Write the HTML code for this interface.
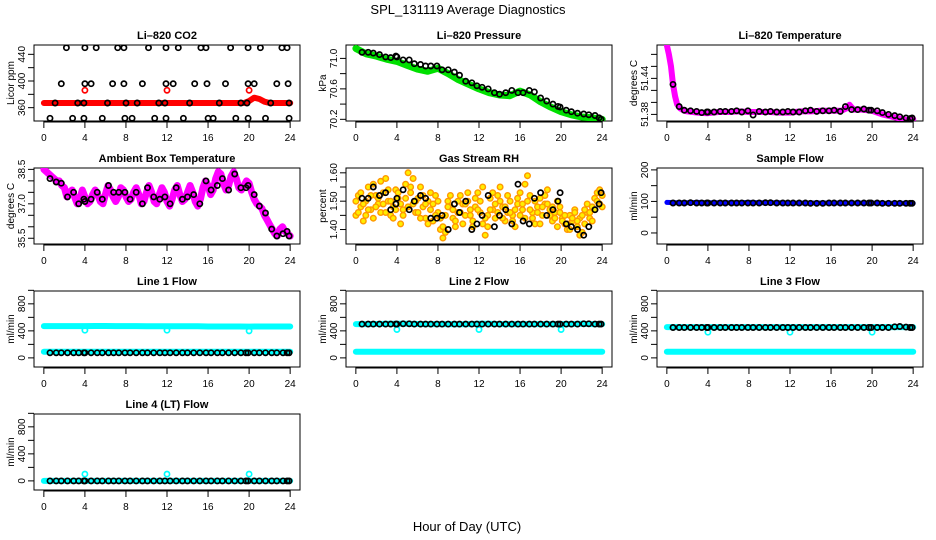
<!DOCTYPE html>
<html><head><meta charset="utf-8"><style>
html,body{margin:0;padding:0;background:#fff;}
svg{display:block;font-family:"Liberation Sans",Arial,sans-serif;}
</style></head><body>
<svg id="chart" width="936" height="540" viewBox="0 0 936 540" xmlns="http://www.w3.org/2000/svg">
<rect width="936" height="540" fill="#fff"/>
<text x="468" y="14" font-size="13" text-anchor="middle">SPL_131119  Average Diagnostics</text>
<text x="467" y="531" font-size="13" text-anchor="middle">Hour of Day (UTC)</text>
</svg>
<script>
// ---- data ----
const xTicks=[0,4,8,12,16,20,24];
const blackHours=[0.6,1.2,1.7,2.3,2.9,3.4,3.9,4.0,4.6,5.2,5.7,6.3,6.8,7.3,7.9,8.4,9.0,9.6,10.1,10.7,11.3,11.8,12.3,12.9,13.5,14.0,14.6,15.2,15.8,16.3,16.9,17.4,18.0,18.6,19.2,19.7,19.9,20.5,21.0,21.6,22.2,22.7,23.3,23.7,23.9];
const hourly=[0,1,2,3,4,5,6,7,8,9,10,11,12,13,14,15,16,17,18,19,20,21,22,23,24];
// CO2
const co2HighHours=[2.2,4.0,5.1,7.2,7.8,10.2,11.9,13.1,15.3,15.8,18.2,19.9,21.1,23.2,23.7];
const co2HighVals=[450,450,450,450,450,450,450,450,450,450,450,450,450,450,450];
const co2MidHours=[1.7,4.0,4.6,6.7,7.8,9.6,11.9,12.6,14.7,15.9,17.7,19.9,20.5,22.7,23.8];
const co2MidVals=[396,396,396,396,396,396,396,396,396,396,396,396,396,396,396];
const co2LowHours=[0.6,2.8,3.9,5.7,7.9,8.6,10.8,11.9,13.6,16.0,16.5,18.7,19.9,21.6,23.9];
const co2LowVals=[344,344,344,344,344,344,344,344,344,344,344,344,344,344,344];
const co2LineHours=[1.1,3.3,3.9,6.2,8.0,9.1,11.2,11.8,14.2,17.1,19.2,19.8,22.1,23.9];
const co2LineVals=[367,367,367,367,367,367,367,367,367,367,367,367,367,367];
const co2RedHours=[0,2,4,6,8,10,12,14,16,18,19.5,20,20.5,21,21.5,22,24];
const co2RedVals=[367,367,367,367,367,367,367,367,367,367,367,370,375,373,369,367,367];
const co2RedDipHours=[4,12,20];
const co2RedDipVals=[386,386,386];
// Pressure
const presGreen=[71.13,71.06,71.03,70.99,70.96,70.91,70.86,70.83,70.87,70.8,70.72,70.66,70.6,70.55,70.52,70.51,70.57,70.52,70.43,70.36,70.3,70.26,70.23,70.22,70.2];
const presBlack=[71.08,71.08,71.07,71.05,71.02,71.01,71.03,71.02,70.98,70.98,70.93,70.92,70.9,70.9,70.9,70.85,70.85,70.82,70.78,70.7,70.68,70.64,70.62,70.6,70.55,70.53,70.55,70.58,70.55,70.55,70.58,70.56,70.48,70.44,70.4,70.37,70.36,70.32,70.3,70.28,70.27,70.26,70.25,70.22,70.2];
// Li-820 temperature
const tempHours=[0,0.2,0.4,0.6,0.8,1.0,1.3,1.7,2,3,4,5,6,7,8,9,10,11,12,13,14,15,16,17,17.5,17.8,18.2,19,20,21,22,23,23.5,24];
const tempMag=[51.495,51.48,51.46,51.43,51.41,51.397,51.39,51.386,51.385,51.383,51.382,51.384,51.384,51.385,51.384,51.384,51.384,51.383,51.383,51.385,51.385,51.386,51.386,51.386,51.39,51.396,51.388,51.388,51.386,51.38,51.376,51.372,51.37,51.372];
const tempBlack=[51.43,51.393,51.387,51.386,51.385,51.383,51.384,51.384,51.384,51.385,51.385,51.385,51.386,51.384,51.386,51.379,51.385,51.384,51.385,51.384,51.384,51.385,51.384,51.384,51.386,51.387,51.385,51.386,51.386,51.387,51.385,51.393,51.388,51.388,51.389,51.387,51.387,51.386,51.383,51.380,51.378,51.376,51.374,51.373,51.374];
// Ambient box temperature (quarter-hourly)
const ambMag=[38.5,38.4,38.3,38.2,38.1,38.0,38.0,37.8,37.7,37.3,37.5,37.6,37.3,37.0,37.2,37.6,37.3,37.0,37.1,37.4,37.6,37.4,37.1,37.0,37.4,37.8,37.6,37.3,37.1,37.3,37.7,37.6,37.3,37.1,37.2,37.5,37.7,37.4,37.0,37.1,37.5,37.8,37.5,37.1,37.0,37.4,37.7,37.5,37.1,36.9,37.2,37.6,37.8,37.4,37.1,37.2,37.5,37.8,37.5,37.1,36.9,37.2,37.7,38.0,37.8,37.4,37.6,38.1,38.4,38.3,37.9,37.6,37.8,38.2,38.4,38.1,37.7,37.6,37.8,38.0,37.9,37.5,37.2,37.0,36.9,36.8,36.5,36.3,36.1,35.9,35.7,35.6,35.9,36.0,35.8,35.7,35.6];
const ambBlack=[38.1,37.95,37.9,37.3,37.5,37.0,37.2,37.1,37.2,37.5,37.2,37.8,37.5,37.5,37.5,37.2,37.5,37.0,37.7,37.3,37.2,37.3,37.0,37.7,37.2,37.3,37.4,37.0,38.0,37.6,37.8,38.1,37.6,38.3,37.7,37.7,37.8,37.4,36.9,36.6,35.9,35.6,35.7,35.8,35.6];
// Gas stream RH
const rhA=[1.45,1.52,1.48,1.43,1.50,1.55,1.47,1.44,1.52,1.49,1.46,1.53,1.58,1.50,1.45,1.48,1.54,1.51,1.42,1.47,1.56,1.60,1.53,1.49,1.46,1.51,1.55,1.48,1.44,1.50,1.47,1.43,1.52,1.46,1.40,1.37,1.45,1.50,1.48,1.44,1.41,1.46,1.52,1.49,1.45,1.50,1.47,1.43,1.48,1.53,1.46,1.42,1.38,1.45,1.51,1.47,1.44,1.52,1.55,1.48,1.43,1.46,1.50,1.45,1.41,1.49,1.53,1.47,1.44,1.59,1.52,1.46,1.42,1.48,1.51,1.45,1.49,1.54,1.47,1.43,1.46,1.50,1.48,1.44,1.42,1.40,1.45,1.43,1.47,1.41,1.44,1.39,1.42,1.46,1.44,1.48,1.51,1.53,1.49,1.52];
const rhB=[1.50,1.46,1.53,1.49,1.45,1.47,1.52,1.56,1.48,1.51,1.57,1.49,1.46,1.54,1.50,1.44,1.47,1.53,1.49,1.45,1.51,1.48,1.55,1.58,1.50,1.46,1.44,1.52,1.49,1.42,1.53,1.49,1.45,1.50,1.44,1.41,1.39,1.48,1.52,1.47,1.43,1.50,1.46,1.42,1.49,1.53,1.45,1.41,1.51,1.47,1.50,1.55,1.44,1.41,1.47,1.53,1.49,1.46,1.50,1.44,1.48,1.52,1.46,1.43,1.47,1.51,1.45,1.49,1.56,1.50,1.47,1.44,1.50,1.46,1.42,1.48,1.52,1.49,1.45,1.48,1.44,1.41,1.46,1.43,1.45,1.42,1.40,1.44,1.46,1.43,1.38,1.45,1.47,1.49,1.46,1.43,1.47,1.50,1.54,1.48];
const rhBlack=[1.51,1.51,1.55,1.52,1.53,1.47,1.49,1.51,1.54,1.47,1.50,1.52,1.51,1.44,1.44,1.45,1.40,1.49,1.46,1.50,1.40,1.42,1.45,1.52,1.41,1.45,1.47,1.42,1.56,1.43,1.42,1.51,1.53,1.45,1.47,1.50,1.53,1.42,1.41,1.40,1.38,1.41,1.47,1.49,1.53];
// Sample flow
const sampleBlue=[97,96,96,97,96,96,96,96,97,96,96,96,95,95,95,95,95,95,95,95,95,94,94,94,94];
const sampleBlack=[95,95,95,96,95,95,95,95,95,95,95,95,95,95,95,95,95,96,96,95,95,95,95,95,95,94,94,94,95,95,95,95,95,95,95,95,95,95,94,94,94,94,94,94,94];
// Line flows
const dipHours=[4,12,20];
const l1High=[470,470,470,470,470,472,472,470,470,470,468,468,468,468,468,468,465,465,465,465,463,465,465,465,465];
const l1Low=[90,90,90,90,90,90,90,90,90,90,90,90,90,90,90,90,90,90,90,90,90,90,90,90,90];
const l1Black=[75,75,75,75,75,75,75,75,75,75,75,75,75,75,75,75,75,75,75,75,75,75,75,75,75,75,75,75,75,75,75,75,75,75,75,75,75,75,75,75,75,75,75,75,75];
const l1Dip=[410,410,400];
const l2High=[500,500,502,505,505,505,502,500,500,500,498,500,505,505,500,500,500,500,500,500,500,500,505,500,500];
const l2Low=[90,90,90,90,90,90,90,90,90,90,90,90,90,90,90,90,90,90,90,90,90,90,90,90,90];
const l2Black=[500,500,500,500,500,500,500,500,505,505,500,500,500,500,500,500,500,500,500,500,500,500,500,500,500,500,500,500,500,500,500,500,500,500,500,500,500,500,500,500,505,505,500,500,500];
const l2Dip=[420,420,420];
const l3High=[455,455,455,455,455,455,455,455,455,455,455,455,455,455,455,455,455,455,455,455,455,455,455,455,455];
const l3Low=[90,90,90,90,90,90,90,90,90,90,90,90,90,90,90,90,90,90,90,90,90,90,90,90,90];
const l3Black=[450,450,450,450,450,450,450,450,450,450,450,450,450,450,450,450,450,450,450,450,450,450,450,450,450,450,450,450,450,450,450,450,450,450,450,450,450,450,450,450,460,465,455,450,450];
const l3Dip=[380,380,380];
const l4Cyan=[0,0,0,0,0,0,0,0,0,0,0,0,0,0,0,0,0,0,0,0,0,0,0,0,0];
const l4Black=[0,0,0,0,0,0,0,0,0,0,0,0,0,0,0,0,0,0,0,0,0,0,0,0,0,0,0,0,0,0,0,0,0,0,0,0,0,0,0,0,0,0,0,0,0];
const l4Dip=[100,100,100];

// ---- drawing ----
const NS='http://www.w3.org/2000/svg';
const svg=document.getElementById('chart');
const colLeft=[34,346,657], rowTop=[45,168,291,414], PW=266, PH=76;
function mk(tag,parent){const e=document.createElementNS(NS,tag);parent.appendChild(e);return e;}
function makePanel(col,row,name,title,ymin,ymax,ticks,labels,ytitle){
  const L=colLeft[col],T=rowTop[row];
  const g=mk('g',svg);
  
  
  const sx=h=>L+9.85+h*(PW-19.7)/24;
  const sy=v=>T+(ymax-v)/(ymax-ymin)*PH;
  const box=mk('rect',g);
  box.setAttribute('x',L);box.setAttribute('y',T);box.setAttribute('width',PW);box.setAttribute('height',PH);
  box.setAttribute('fill','none');box.setAttribute('stroke','#000');box.setAttribute('stroke-width','1');
  
  
  const t=mk('text',g);t.textContent=title;
  t.setAttribute('x',L+PW/2);t.setAttribute('y',T-6);t.setAttribute('font-size','11');t.setAttribute('font-weight','bold');t.setAttribute('text-anchor','middle');
  
  
  const xa=mk('g',g);
  
  
  const al=mk('line',xa);al.setAttribute('x1',sx(0));al.setAttribute('x2',sx(24));al.setAttribute('y1',T+PH+1);al.setAttribute('y2',T+PH+1);al.setAttribute('stroke','#000');
  xTicks.forEach(v=>{
    const l=mk('line',xa);l.setAttribute('x1',sx(v));l.setAttribute('x2',sx(v));l.setAttribute('y1',T+PH);l.setAttribute('y2',T+PH+7);l.setAttribute('stroke','#000');
    const tx=mk('text',xa);tx.textContent=v;tx.setAttribute('x',sx(v));tx.setAttribute('y',T+PH+20);tx.setAttribute('font-size','10');tx.setAttribute('text-anchor','middle');
    
    
  });
  const ya=mk('g',g);
  
  
  ticks.forEach(v=>{
    const l=mk('line',ya);l.setAttribute('x1',L-6);l.setAttribute('x2',L);l.setAttribute('y1',sy(v));l.setAttribute('y2',sy(v));l.setAttribute('stroke','#000');
  });
  labels.forEach(p=>{
    const tx=mk('text',ya);tx.textContent=p[1];
    const x=L-9,y=sy(p[0]);
    tx.setAttribute('x',x);tx.setAttribute('y',y);tx.setAttribute('font-size','10');tx.setAttribute('text-anchor','middle');
    tx.setAttribute('transform','rotate(-90 '+x+' '+y+')');
    
    
  });
  const yt=mk('text',g);yt.textContent=ytitle;
  const yx=L-20,yy=T+PH/2;
  yt.setAttribute('x',yx);yt.setAttribute('y',yy);yt.setAttribute('font-size','10');yt.setAttribute('text-anchor','middle');
  yt.setAttribute('transform','rotate(-90 '+yx+' '+yy+')');
  
  
  const clip=mk('clipPath',g);const cid='c'+col+row;clip.setAttribute('id',cid);
  const cr=mk('rect',clip);cr.setAttribute('x',L);cr.setAttribute('y',T);cr.setAttribute('width',PW);cr.setAttribute('height',PH);
  const data=mk('g',g);data.setAttribute('clip-path','url(#'+cid+')');
  
  
  return {sx,sy,g:data};
}
function band(p,xs,ys,color,w,name){
  const n=Math.min(xs.length,ys.length);
  const pl=mk('polyline',p.g);
  pl.setAttribute('points',Array.from({length:n},(_,i)=>p.sx(xs[i]).toFixed(1)+','+p.sy(ys[i]).toFixed(1)).join(' '));
  pl.setAttribute('fill','none');pl.setAttribute('stroke',color);pl.setAttribute('stroke-width',w);pl.setAttribute('stroke-linejoin','round');pl.setAttribute('stroke-linecap','round');
  
  
}
function pts(p,xs,ys,color,name,r,sw,fill){
  const n=Math.min(xs.length,ys.length);
  for(let i=0;i<n;i++){
    const c=mk('circle',p.g);
    c.setAttribute('cx',p.sx(xs[i]).toFixed(1));c.setAttribute('cy',p.sy(ys[i]).toFixed(1));c.setAttribute('r',r||2.6);
    c.setAttribute('fill',fill||'none');c.setAttribute('stroke',color);c.setAttribute('stroke-width',sw||1.7);
    
    
  }
}
const q=n=>Array.from({length:n},(_,i)=>i*24/(n-1));

// Panel 1: CO2
let p=makePanel(0,0,'li820-co2-panel','Li\u2013820 CO2',340,454,[360,380,400,420,440],[[360,'360'],[400,'400'],[440,'440']],'Licor ppm');
band(p,co2RedHours,co2RedVals,'#ff0000',6,'co2-red-line');
pts(p,co2RedDipHours,co2RedDipVals,'#ff0000','co2-red-point');
pts(p,co2HighHours,co2HighVals,'#000','co2-black-point');
pts(p,co2MidHours,co2MidVals,'#000','co2-black-point');
pts(p,co2LowHours,co2LowVals,'#000','co2-black-point');
pts(p,co2LineHours,co2LineVals,'#000','co2-black-point');

// Panel 2: Pressure
p=makePanel(1,0,'li820-pressure-panel','Li\u2013820 Pressure',70.178,71.176,[70.2,70.4,70.6,70.8,71.0],[[70.2,'70.2'],[70.6,'70.6'],[71.0,'71.0']],'kPa');
band(p,hourly,presGreen,'#00e000',7,'pressure-green-line');
pts(p,blackHours,presBlack,'#000','pressure-black-point');

// Panel 3: Li-820 temperature
p=makePanel(2,0,'li820-temperature-panel','Li\u2013820 Temperature',51.369,51.4956,[51.38,51.40,51.42,51.44,51.46,51.48],[[51.38,'51.38'],[51.44,'51.44']],'degrees C');
band(p,tempHours,tempMag,'#ff00ff',6,'temperature-magenta-line');
pts(p,blackHours,tempBlack,'#000','temperature-black-point');

// Panel 4: Ambient box temperature
p=makePanel(0,1,'ambient-temperature-panel','Ambient Box Temperature',35.25,38.56,[35.5,36,36.5,37,37.5,38,38.5],[[35.5,'35.5'],[37,'37.0'],[38.5,'38.5']],'degrees C');
band(p,q(ambMag.length),ambMag,'#ff00ff',7,'ambient-magenta-line');
pts(p,blackHours,ambBlack,'#000','ambient-black-point');

// Panel 5: Gas stream RH
p=makePanel(1,1,'gas-rh-panel','Gas Stream RH',1.349,1.617,[1.40,1.45,1.50,1.55,1.60],[[1.40,'1.40'],[1.50,'1.50'],[1.60,'1.60']],'percent');
pts(p,q(rhA.length),rhA,'#ff9900','rh-orange-point',2.8,1.4,'#ffee00');
pts(p,q(rhB.length),rhB,'#ff9900','rh-orange-point',2.8,1.4,'#ffee00');
pts(p,blackHours,rhBlack,'#000','rh-black-point');

// Panel 6: Sample flow
p=makePanel(2,1,'sample-flow-panel','Sample Flow',-35,206,[0,50,100,150,200],[[0,'0'],[100,'100'],[200,'200']],'ml/min');
band(p,hourly,sampleBlue,'#0000ff',5,'sample-blue-line');
pts(p,blackHours,sampleBlack,'#000','sample-black-point');

const fT=[0,200,400,600,800,1000], fL=[[0,'0'],[400,'400'],[800,'800']];
// Panel 7: Line 1
p=makePanel(0,2,'line1-flow-panel','Line 1 Flow',-135,990,fT,fL,'ml/min');
band(p,hourly,l1High,'#00ffff',6,'line1-high-band');
band(p,hourly,l1Low,'#00ffff',6,'line1-low-band');
pts(p,dipHours,l1Dip,'#00ffff','line1-dip-point');
pts(p,blackHours,l1Black,'#000','line1-black-point');
// Panel 8: Line 2
p=makePanel(1,2,'line2-flow-panel','Line 2 Flow',-135,990,fT,fL,'ml/min');
band(p,hourly,l2High,'#00ffff',6,'line2-high-band');
band(p,hourly,l2Low,'#00ffff',6,'line2-low-band');
pts(p,dipHours,l2Dip,'#00ffff','line2-dip-point');
pts(p,blackHours,l2Black,'#000','line2-black-point');
// Panel 9: Line 3
p=makePanel(2,2,'line3-flow-panel','Line 3 Flow',-135,990,fT,fL,'ml/min');
band(p,hourly,l3High,'#00ffff',6,'line3-high-band');
band(p,hourly,l3Low,'#00ffff',6,'line3-low-band');
pts(p,dipHours,l3Dip,'#00ffff','line3-dip-point');
pts(p,blackHours,l3Black,'#000','line3-black-point');
// Panel 10: Line 4
p=makePanel(0,3,'line4-flow-panel','Line 4 (LT) Flow',-135,990,fT,fL,'ml/min');
band(p,hourly,l4Cyan,'#00ffff',6,'line4-cyan-band');
pts(p,dipHours,l4Dip,'#00ffff','line4-dip-point');
pts(p,blackHours,l4Black,'#000','line4-black-point');
</script>
</body></html>
